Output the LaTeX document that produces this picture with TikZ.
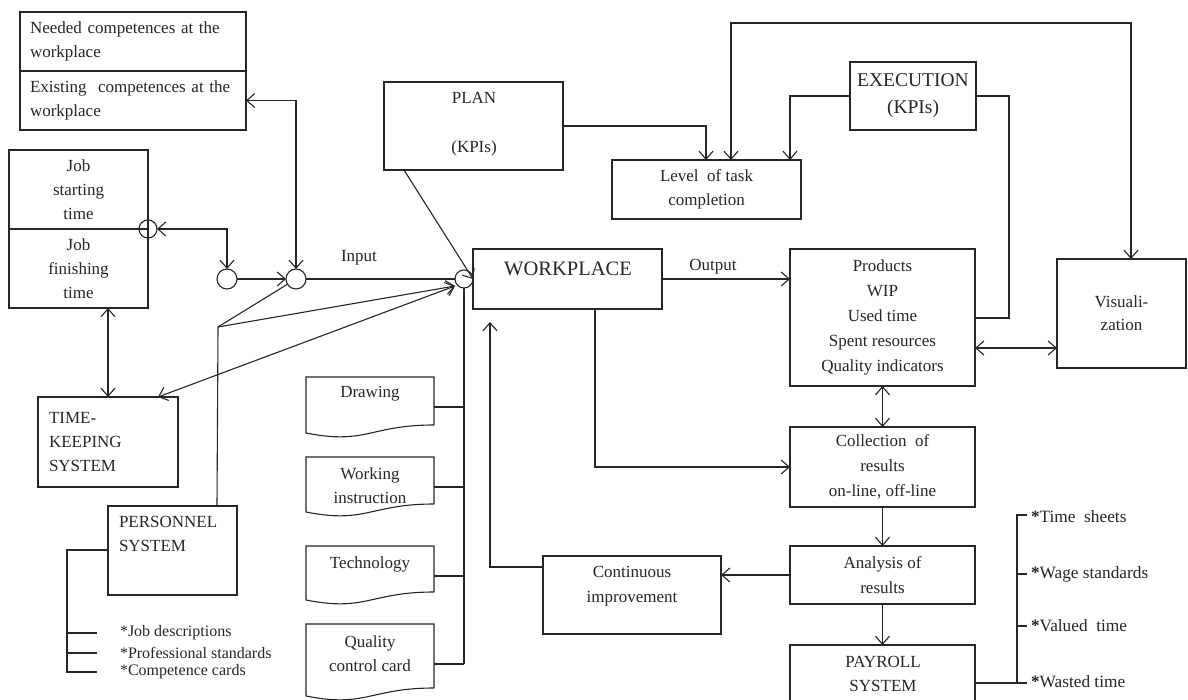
\documentclass[tikz,border=0pt]{standalone}
\usepackage{fontspec}
\setmainfont{Liberation Serif}
\usetikzlibrary{arrows.meta,calc}
\definecolor{ink}{HTML}{262626}
\begin{document}
\begin{tikzpicture}[x=1pt,y=-1pt,
  every node/.style={font=\fontsize{17}{24}\selectfont, inner sep=0pt, outer sep=0pt, text=ink},
  box/.style={draw=ink, line width=1.1pt, anchor=north west, align=center},
  ln/.style={draw=ink, line width=1.1pt},
  arr/.style={ln, -{Straight Barb[length=8pt,width=14pt]}},
  darr/.style={ln, {Straight Barb[length=8pt,width=14pt]}-{Straight Barb[length=8pt,width=14pt]}},
  thk/.style={draw=ink, line width=2.4pt},
  circ/.style={draw=ink, line width=1.1pt, circle, minimum size=19pt},
  docnode/.style={anchor=north west, minimum width=128pt},
  small/.style={font=\fontsize{16}{20}\selectfont},
  lst/.style={anchor=west, font=\fontsize{17.3}{24}\selectfont},
]
\useasboundingbox (0,0) rectangle (1188,700);
\fill[white] (0,0) rectangle (1188,700);

% ---------- competences ----------
\node[box, minimum width=226, minimum height=59, text width=206, align=left] (need) at (20,12) {Needed competences at the\\workplace};
\node[box, minimum width=226, minimum height=59, text width=206, align=left] (exist) at (20,71) {Existing~ competences at the\\workplace};

% ---------- job time ----------
\node[box, minimum width=139, minimum height=79] (jobs) at (9,150) {Job\\starting\\time};
\node[box, minimum width=139, minimum height=79] (jobf) at (9,229) {Job\\finishing\\time};
\node[circ, minimum size=18] (jc) at (148,229) {};

% ---------- circles ----------
\node[circ, minimum size=20] (c1) at (227,279) {};
\node[circ, minimum size=20] (c2) at (296,279) {};
\node[circ, minimum size=18] (jn) at (464,279) {};
\coordinate (jnl) at ($(jn)+(-9,7)$);

% ---------- time keeping / personnel ----------
\node[box, minimum width=140, minimum height=90, text width=118, align=left] (tk) at (38,397) {TIME-\\KEEPING\\SYSTEM};
\node[box, minimum width=129, minimum height=89] (pers) at (108,506) {};
\node[anchor=north west, align=left] (perst) at (119,516) {PERSONNEL\\SYSTEM};
\coordinate (pv) at (218,327);

\node[small, anchor=west] (jd) at (120,633) {*Job descriptions};
\node[small, anchor=west] (ps) at (120,653) {*Professional standards};
\node[small, anchor=west] (cc) at (120,672) {*Competence cards};

% ---------- plan / level / execution ----------
\node[box, minimum width=179, minimum height=88] (plan) at (384,82) {};
\node (plant) at (474,98) {PLAN};
\node (plank) at (474,148) {(KPIs)};
\node[box, minimum width=189, minimum height=59] (lvl) at (612,160) {Level~ of task\\completion};
\node[box, minimum width=126, minimum height=68, font=\fontsize{19.5}{27}\selectfont] (exe) at (850,62) {EXECUTION\\(KPIs)};

% ---------- workplace ----------
\node[box, minimum width=189, minimum height=60] (wp) at (473,249) {};
\node[font=\fontsize{20.5}{24}\selectfont] (wpt) at (568,269) {WORKPLACE};
\node (inl) at (359,258) {Input};
\node (outl) at (713,267) {Output};

% ---------- right column ----------
\node[box, minimum width=185, minimum height=137, font=\fontsize{17}{25}\selectfont] (prod) at (790,249) {Products\\WIP\\Used time\\Spent resources\\Quality indicators};
\node[box, minimum width=129, minimum height=109, font=\fontsize{17}{23}\selectfont] (vis) at (1057,259) {Visuali-\\zation};
\node[box, minimum width=185, minimum height=80, font=\fontsize{17}{25}\selectfont] (coll) at (790,427) {Collection~ of\\results\\on-line, off-line};
\node[box, minimum width=185, minimum height=58, font=\fontsize{17}{25}\selectfont] (ana) at (790,546) {Analysis of\\results};
\node[box, minimum width=178, minimum height=78] (cont) at (543,556) {};
\node[align=center, font=\fontsize{17}{25}\selectfont] (contt) at (632,586) {Continuous\\improvement};
\node[box, minimum width=185, minimum height=62] (pay) at (790,645) {};
\node[align=center] (payt) at (883,674) {PAYROLL\\SYSTEM};

\node[lst] (ts) at (1031,517) {{\bfseries *}Time~ sheets};
\node[lst] (wsd) at (1031,574) {{\bfseries *}Wage standards};
\node[lst] (vt) at (1031,626) {{\bfseries *}Valued~ time};
\node[lst] (wt) at (1031,682) {{\bfseries *}Wasted time};

% ---------- documents ----------
\node[docnode, minimum height=48] (dr) at (306,377) {};
\node[docnode, minimum height=47] (wi) at (306,457) {};
\node[docnode, minimum height=46] (te) at (306,546) {};
\node[docnode, minimum height=64] (qc) at (306,624) {};
\foreach \d in {dr,wi,te,qc}{
  \draw[ln] (\d.south east) -- (\d.north east) -- (\d.north west) -- ($(\d.south west)+(0,8)$)
    .. controls ($(\d.south west)+(60,20)$) and ($(\d.south east)+(-64,0)$) .. (\d.south east);
}
\node (drt) at (370,394) {Drawing};
\node[align=center] (wit) at (370,486) {Working\\instruction};
\node (tet) at (370,564) {Technology};
\node[align=center] (qct) at (370,654) {Quality\\control card};

% ---------- bus ----------
\coordinate (bus) at (464,664);
\draw[ln] (jn.south) -- (bus);
\draw[ln] (dr.north east) ++(0,30) coordinate (drb) -- (drb -| bus);
\draw[ln] (wi.north east) ++(0,30) coordinate (wib) -- (wib -| bus);
\draw[ln] (te.north east) ++(0,30) coordinate (teb) -- (teb -| bus);
\draw[ln] (qc.north east) ++(0,40) coordinate (qcb) -- (qcb -| bus);

% ---------- connectors left ----------
\draw[darr] (exist.east) -| (c2.north);
\draw[darr] (jc.east) -| (c1.north);
\draw[arr] (c1.east) -- (c2.west);
\draw[ln] (c2.east) -- (jn.west);
\draw[darr] ($(tk.north west)+(70,0)$) -- ($(jobf.south west)+(99,0)$);
\draw[ln] ($(pers.north west)+(109,0)$) -- (pv) -- (c2);
\draw[arr] (pv) -- (jnl);
\draw[darr] ($(tk.north east)+(-20,0)$) -- (jnl);
\draw[thk] ($(pers.north west)+(0,44)$) -| ($(cc.west)+(-53,0)$) -- ($(cc.west)+(-23,0)$);
\draw[thk] ($(jd.west)+(-53,0)$) -- ($(jd.west)+(-23,0)$);
\draw[thk] ($(ps.west)+(-53,0)$) -- ($(ps.west)+(-23,0)$);

% ---------- connectors top ----------
\draw[arr] ($(plan.south west)+(20,0)$) -- (wp.west);
\draw[arr] (plan.east) -| ($(lvl.north west)+(94,0)$);
\draw[arr] (exe.west) -| ($(lvl.north east)+(-11,0)$);
\draw[darr] ($(lvl.north west)+(119,0)$) -- ++(0,-137) -| ($(vis.north)+(9.5,0)$);
\draw[ln] ($(prod.north east)+(0,69)$) -| ($(exe.east)+(33,0)$) -- (exe.east);

% ---------- connectors right ----------
\draw[arr] (wp.east) -- (wp.east -| prod.west);
\draw[darr] ($(prod.north east)+(0,99)$) -- ($(vis.north west)+(0,89)$);
\draw[darr] (prod.south) -- (coll.north);
\draw[arr] ($(wp.south west)+(122,0)$) |- (coll.west);
\draw[arr] (coll.south) -- (ana.north);
\draw[arr] (ana.west) -- (ana.west -| cont.east);
\draw[arr] (ana.south) -- (pay.north);
\draw[arr] ($(cont.north west)+(0,11)$) -| ($(wp.south west)+(17,13)$);

% ---------- payroll bracket ----------
\draw[thk] ($(pay.north east)+(0,38)$) -| ($(ts.west)+(-14,-2)$) -- ($(ts.west)+(-4,-2)$);
\draw[thk] ($(wsd.west)+(-14,0)$) -- ($(wsd.west)+(-4,0)$);
\draw[thk] ($(vt.west)+(-14,0)$) -- ($(vt.west)+(-4,0)$);
\draw[thk] ($(wt.west)+(-14,1)$) -- ($(wt.west)+(-4,1)$);
\end{tikzpicture}
\end{document}
